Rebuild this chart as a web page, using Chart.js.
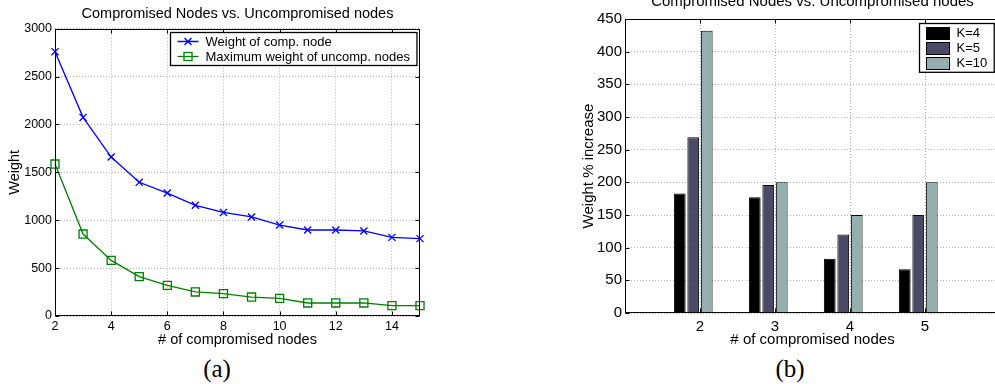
<!DOCTYPE html>
<html>
<head>
<meta charset="utf-8">
<script src="https://cdn.jsdelivr.net/npm/chart.js"></script>
<style>
  html, body { margin:0; padding:0; background:#fff; }
  body { width:995px; height:384px; overflow:hidden; position:relative; }
  canvas { position:absolute; }
  #left { left:0; top:0; }
  #right { left:570px; top:-12px; }
  .cap { position:absolute; top:355px; width:60px; text-align:center;
         font-family:"Liberation Serif", serif; font-size:25px; color:#000; }
</style>
</head>
<body>
<canvas id="left" width="475" height="350"></canvas>
<canvas id="right" width="485" height="362"></canvas>
<div class="cap" style="left:187px">(a)</div>
<div class="cap" style="left:760px">(b)</div>
<script>
// (a) line plot
var nodes = [2,3,4,5,6,7,8,9,10,11,12,13,14,15];
var compWeight = [2760,2074,1660,1396,1284,1156,1082,1034,950,898,898,888,821,808];
var uncompMax  = [1587,856,581,411,320,251,233,198,184,136,136,136,108,108];
var leftXTicks = [2,4,6,8,10,12,14];
var leftYTicks = [0,500,1000,1500,2000,2500,3000];

// (b) bar plot
var groups = [2,3,4,5];
var k4  = [183,177,83,67];
var k5  = [269,196,120,150];
var k10 = [432,200,150,200];
var blank = [0,0,0,0];   // empty 4th bar column
var rightXTicks = [1,2,3,4,5,6];
var rightYTicks = [0,50,100,150,200,250,300,350,400,450];

var title = 'Compromised Nodes vs. Uncompromised nodes';
var fam = '"Liberation Sans", Arial, sans-serif';

function pts(xs, ys) { return xs.map(function(x, i){ return {x: x, y: ys[i]}; }); }
function setTicks(arr) { return function(s){ s.ticks = arr.map(function(v){ return {value: v}; }); }; }
function plain(v) { return String(v); }

// box, inward ticks and matlab-like legend
var frame = {
  id: 'frame',
  afterDraw: function(chart, args, opts) {
    var a = chart.chartArea, ctx = chart.ctx;
    var L = Math.round(a.left) + 0.5, R = Math.round(a.right) - 0.5;
    var T = Math.round(a.top) + 0.5, B = Math.round(a.bottom) - 0.5;
    var xs = chart.scales.x, ys = chart.scales.y;
    ctx.save();
    ctx.strokeStyle = '#000';
    ctx.lineWidth = 1;
    ctx.beginPath();
    xs.ticks.forEach(function(t){
      var p = Math.round(xs.getPixelForValue(t.value)) + 0.5;
      ctx.moveTo(p, B); ctx.lineTo(p, B - 4);
      ctx.moveTo(p, T); ctx.lineTo(p, T + 4);
    });
    ys.ticks.forEach(function(t){
      var p = Math.round(ys.getPixelForValue(t.value)) + 0.5;
      ctx.moveTo(L, p); ctx.lineTo(L + 4, p);
      ctx.moveTo(R, p); ctx.lineTo(R - 4, p);
    });
    ctx.stroke();
    ctx.strokeRect(L, T, R - L, B - T);

    // legend
    var items = chart.data.datasets.filter(function(d){ return d.label; });
    ctx.font = opts.fontSize + 'px ' + fam;
    var tw = 0;
    items.forEach(function(d){ tw = Math.max(tw, ctx.measureText(d.label).width); });
    var keyW = opts.swatch ? 23 : 21;
    var w = 7 + keyW + 7 + tw + 7;
    var h = 18 + (items.length - 1) * opts.rowH;
    var bx = Math.round(a.right - opts.right - w) + 0.5;
    var by = Math.round(a.top + opts.top) + 0.5;
    ctx.fillStyle = '#fff';
    ctx.fillRect(bx, by, w, h);
    ctx.lineWidth = 1.3;
    ctx.strokeStyle = '#000';
    ctx.strokeRect(bx, by, w, h);
    items.forEach(function(d, i){
      var cy = by + 9 + i * opts.rowH;
      var kx = bx + 7;
      if (opts.swatch) {
        ctx.fillStyle = d.backgroundColor;
        ctx.fillRect(kx, Math.round(cy - 6) + 0.5, keyW, 12);
        ctx.lineWidth = 1;
        ctx.strokeStyle = '#000';
        ctx.strokeRect(kx, Math.round(cy - 6) + 0.5, keyW, 12);
      } else {
        var c = d.borderColor, mx = kx + keyW / 2;
        ctx.strokeStyle = c;
        ctx.lineWidth = 1.3;
        ctx.beginPath();
        ctx.moveTo(kx, cy); ctx.lineTo(kx + keyW, cy);
        if (d.pointStyle === 'crossRot') {
          ctx.moveTo(mx - 3.5, cy - 3.5); ctx.lineTo(mx + 3.5, cy + 3.5);
          ctx.moveTo(mx - 3.5, cy + 3.5); ctx.lineTo(mx + 3.5, cy - 3.5);
        }
        ctx.stroke();
        if (d.pointStyle === 'rect') ctx.strokeRect(mx - 4, cy - 4, 8, 8);
      }
      ctx.fillStyle = '#000';
      ctx.textBaseline = 'middle';
      ctx.textAlign = 'left';
      ctx.fillText(d.label, kx + keyW + 7, cy + 0.5);
    });
    ctx.restore();
  }
};

var gridOpts = { color: '#b0b0b0', lineWidth: 1, drawTicks: false };
var borderOpts = { display: false, dash: [1, 2] };

new Chart(document.getElementById('left'), {
  type: 'line',
  data: {
    datasets: [{
      label: 'Weight of comp. node',
      data: pts(nodes, compWeight),
      borderColor: '#0000ff', backgroundColor: '#0000ff',
      borderWidth: 1.3, tension: 0, clip: false,
      pointStyle: 'crossRot', pointRadius: 5, pointBorderWidth: 1.3,
      pointBorderColor: '#0000ff'
    }, {
      label: 'Maximum weight of uncomp. nodes',
      data: pts(nodes, uncompMax),
      borderColor: '#008000', backgroundColor: 'rgba(0,0,0,0)',
      borderWidth: 1.3, tension: 0, clip: false,
      pointStyle: 'rect', pointRadius: 5.7, pointBorderWidth: 1.3,
      pointBorderColor: '#008000', pointBackgroundColor: 'rgba(0,0,0,0)'
    }]
  },
  options: {
    responsive: false, animation: false,
    layout: { padding: { left: 0, right: 55, top: 0, bottom: 0 } },
    plugins: {
      legend: { display: false },
      tooltip: { enabled: false },
      title: { display: true, fullSize: false, text: title, color: '#000',
               font: { family: fam, size: 14.5, weight: 'normal' },
               padding: { top: 4.8, bottom: 6.5 } },
      frame: { fontSize: 13, rowH: 15, right: 4, top: 3.3, swatch: false }
    },
    scales: {
      x: {
        type: 'linear', min: 2, max: 15,
        afterBuildTicks: setTicks(leftXTicks),
        afterFit: function(s){ s.height = 34; },
        grid: gridOpts, border: borderOpts,
        ticks: { color: '#000', padding: 3, maxRotation: 0, callback: plain,
                 font: { family: fam, size: 12.5 } },
        title: { display: true, text: '# of compromised nodes', color: '#000',
                 font: { family: fam, size: 14.5 }, padding: { top: 0, bottom: 1.3 } }
      },
      y: {
        min: 0, max: 3000,
        afterBuildTicks: setTicks(leftYTicks),
        afterFit: function(s){ s.width = 55; },
        grid: gridOpts, border: borderOpts,
        ticks: { color: '#000', padding: 3, callback: plain, font: { family: fam, size: 12.5 } },
        title: { display: true, text: 'Weight', color: '#000',
                 font: { family: fam, size: 14.5 }, padding: { top: 6.3, bottom: 0 } }
      }
    }
  },
  plugins: [frame]
});

function barSet(label, vals, color) {
  return {
    label: label, data: pts(groups, vals),
    backgroundColor: color, borderColor: '#000', borderWidth: 1,
    categoryPercentage: 0.72, barPercentage: 0.87
  };
}

new Chart(document.getElementById('right'), {
  type: 'bar',
  data: {
    datasets: [
      barSet('K=4', k4, '#000000'),
      barSet('K=5', k5, '#4a4a67'),
      barSet('K=10', k10, '#95aeae'),
      barSet('', blank, '#ffffff')
    ]
  },
  options: {
    responsive: false, animation: false,
    layout: { padding: { left: 0, right: 55, top: 0, bottom: 0 } },
    plugins: {
      legend: { display: false },
      tooltip: { enabled: false },
      title: { display: true, fullSize: false, text: title, color: '#000',
               font: { family: fam, size: 15, weight: 'normal' },
               padding: { top: 4.5, bottom: 8.5 } },
      frame: { fontSize: 13, rowH: 15.4, right: 6, top: 4, swatch: true }
    },
    scales: {
      x: {
        type: 'linear', min: 1, max: 6, offset: false,
        afterBuildTicks: setTicks(rightXTicks),
        afterFit: function(s){ s.height = 37; },
        grid: { color: '#b0b0b0', lineWidth: 1, drawTicks: false, offset: false },
        border: borderOpts,
        ticks: { color: '#000', padding: 4.5, maxRotation: 0, font: { family: fam, size: 15 },
                 callback: function(v){ return groups.indexOf(v) >= 0 ? String(v) : ''; } },
        title: { display: true, text: '# of compromised nodes', color: '#000',
                 font: { family: fam, size: 15 }, padding: { top: 0, bottom: 1 } }
      },
      y: {
        min: 0, max: 450,
        afterBuildTicks: setTicks(rightYTicks),
        afterFit: function(s){ s.width = 55; },
        grid: gridOpts, border: borderOpts,
        ticks: { color: '#000', padding: 3, callback: plain, font: { family: fam, size: 15 } },
        title: { display: true, text: 'Weight % increase', color: '#000',
                 font: { family: fam, size: 15 }, padding: { top: 10, bottom: 0 } }
      }
    }
  },
  plugins: [frame]
});
</script>
</body>
</html>
